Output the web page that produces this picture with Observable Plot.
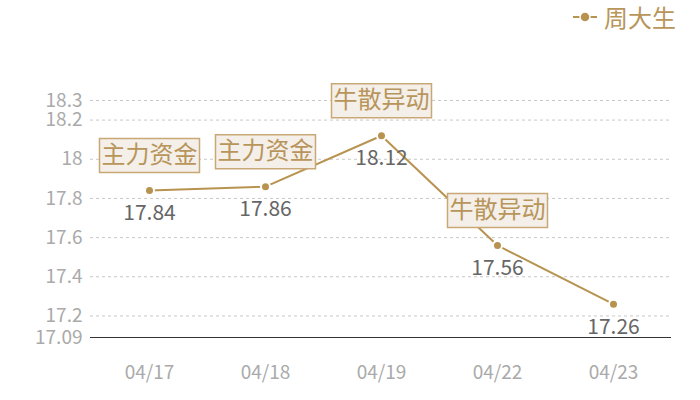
<!DOCTYPE html>
<html><head><meta charset="utf-8">
<script src="https://cdn.jsdelivr.net/npm/d3@7"></script>
<script src="https://cdn.jsdelivr.net/npm/@observablehq/plot@0.6"></script>
<style>
body{margin:0;background:#fff;font-family:"Noto Sans CJK SC","Noto Sans",sans-serif;}
#wrap{position:relative;width:700px;height:400px;}
#legend{position:absolute;left:572px;top:3px;display:flex;align-items:center;gap:5px;font-size:24px;line-height:28px;color:#b8955a;}
</style></head>
<body>
<div id="wrap">
<div id="legend"><svg width="27" height="28"></svg><span id="lgtext"></span></div>
</div>
<script>
const dates = ["04/17", "04/18", "04/19", "04/22", "04/23"];
const prices = [17.84, 17.86, 18.12, 17.56, 17.26];
const notes = ["主力资金", "主力资金", "牛散异动", "牛散异动", null];
const yTicks = [17.09, 17.2, 17.4, 17.6, 17.8, 18, 18.2, 18.3];
const seriesName = "周大生";

const gold = "#b8924f";
const data = dates.map((d, i) => ({date: d, price: prices[i], note: notes[i]}));
const noted = data.filter(d => d.note);

const boxSymbol = {draw(ctx) { ctx.rect(-50, -17, 100, 34); }};

const chart = Plot.plot({
  width: 700, height: 400,
  marginLeft: 90, marginRight: 29, marginTop: 100, marginBottom: 63,
  style: {fontFamily: '"Noto Sans CJK SC", sans-serif', background: "transparent"},
  x: {type: "band", domain: dates, padding: 0, label: null},
  y: {domain: [17.09, 18.3], label: null},
  marks: [
    Plot.gridY(yTicks.filter(t => t > 17.09), {stroke: "#c8c8c8", strokeOpacity: 1, strokeDasharray: "3,3"}),
    Plot.axisY(yTicks, {tickSize: 0, tickPadding: 8, fontSize: 19, fill: "#aaa", tickFormat: d => String(d), label: null}),
    Plot.axisX({tickSize: 0, tickPadding: 28, fontSize: 19, fill: "#aaa", label: null}),
    Plot.ruleY([17.09], {stroke: "#333", strokeWidth: 1.2}),
    Plot.line(data, {x: "date", y: "price", stroke: gold, strokeWidth: 2}),
    Plot.dot(data, {x: "date", y: "price", r: 4.5, fill: gold, stroke: "#fff", strokeWidth: 2}),
    Plot.text(data, {x: "date", y: "price", text: d => String(d.price), dy: 23, fontSize: 21, fill: "#666"}),
    Plot.dot(noted, {x: "date", y: "price", symbol: boxSymbol, dy: -35, fill: "#f4efe9", stroke: "#c9a877", strokeWidth: 1.5}),
    Plot.text(noted, {x: "date", y: "price", text: "note", dy: -35, fontSize: 24, fill: "#b8955a"})
  ]
});
document.getElementById("wrap").prepend(chart);

const lg = d3.select("#legend svg");
lg.append("line").attr("x1", 1).attr("x2", 25).attr("y1", 14).attr("y2", 14).attr("stroke", gold).attr("stroke-width", 2);
lg.append("circle").attr("cx", 13).attr("cy", 14).attr("r", 5).attr("fill", gold).attr("stroke", "#fff").attr("stroke-width", 1.5);
document.getElementById("lgtext").textContent = seriesName;
</script>
</body></html>
